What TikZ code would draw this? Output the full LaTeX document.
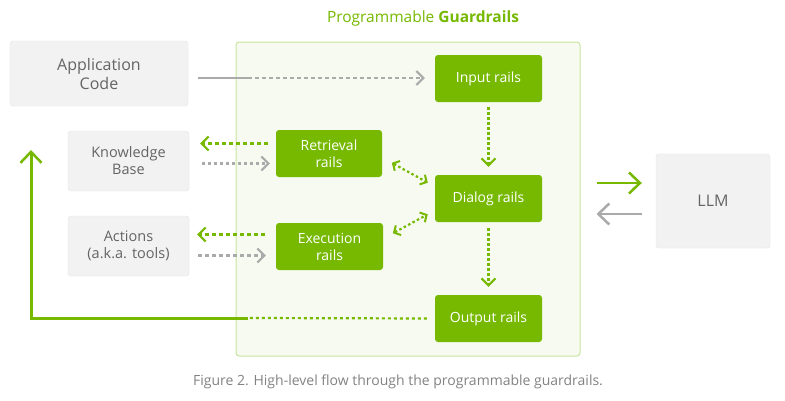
\documentclass[tikz,border=0pt]{standalone}
\usepackage{fontspec}
\setmainfont{Open Sans}
\usetikzlibrary{arrows.meta}
\definecolor{nvgreen}{RGB}{118,185,0}
\definecolor{railbg}{RGB}{247,250,240}
\definecolor{railedge}{RGB}{200,230,160}
\definecolor{boxgray}{RGB}{242,242,242}
\definecolor{boxedge}{RGB}{228,228,228}
\definecolor{txtgray}{RGB}{100,100,100}
\definecolor{arrgray}{RGB}{170,170,170}
\tikzset{
  outerbox/.style={draw=boxedge,fill=boxgray,rounded corners=3pt,text=txtgray,align=center},
  railbox/.style={fill=nvgreen,rounded corners=3pt,text=white,align=center,
    minimum width=107pt,minimum height=47pt,font=\fontsize{14}{17}\selectfont},
  tip/.style={-{Straight Barb[length=7pt,width=14pt,line width=2pt]}},
  bigtip/.style={-{Straight Barb[length=11pt,width=21pt,line width=2.5pt]}},
  bitip/.style={{Straight Barb[length=5pt,width=11pt,line width=2pt]}-{Straight Barb[length=5pt,width=11pt,line width=2pt]}},
  greendash/.style={tip,nvgreen,line width=2.2pt,dash pattern=on 4pt off 3pt},
  greendot/.style={tip,nvgreen,line width=2.2pt,dash pattern=on 2.5pt off 2.5pt},
  graydash/.style={tip,arrgray,line width=2.2pt,dash pattern=on 4pt off 3pt}
}
\begin{document}
\begin{tikzpicture}[x=1pt,y=-1pt]
  \useasboundingbox[fill=white] (0,0) rectangle (785,400);
  \node[draw=railedge,fill=railbg,rounded corners=3pt,line width=1pt,minimum width=344pt,minimum height=314pt] (guard) at (408,199) {};
  \node[text=nvgreen,font=\fontsize{15.5}{18}\selectfont] (title) at (423,18) {Programmable \textbf{Guardrails}};
  \node[outerbox,minimum width=178pt,minimum height=65pt,font=\fontsize{16}{19}\selectfont] (app) at (99,73.5) {Application\\Code};
  \node[outerbox,minimum width=121pt,minimum height=60pt,font=\fontsize{14.5}{17}\selectfont] (kb) at (128.5,161) {Knowledge\\Base};
  \node[outerbox,minimum width=121pt,minimum height=60pt,font=\fontsize{14.5}{17}\selectfont] (act) at (128.5,246) {Actions\\(a.k.a. tools)};
  \node[outerbox,minimum width=114pt,minimum height=94pt,font=\fontsize{16}{19}\selectfont] (llm) at (713,201) {LLM};
  \node[railbox] (input) at (488.5,78.5) {Input rails};
  \node[railbox,minimum width=106pt] (retr) at (329,153.5) {Retrieval\\rails};
  \node[railbox] (dialog) at (488.5,198.5) {Dialog rails};
  \node[railbox] (exec) at (329.5,246.5) {Execution\\rails};
  \node[railbox] (output) at (488.5,318.5) {Output rails};
  \node[text=txtgray!80,font=\fontsize{14}{16}\selectfont] (caption) at (398,382) {Figure 2. High-level flow through the programmable guardrails.};
  \coordinate (appmid) at (248,78);
  \coordinate (outmid) at (248,318);
  \coordinate (corner) at (31,318);
  \coordinate (back) at (31,150);
  \draw[arrgray,line width=2.4pt,shorten <=10pt] (app.east |- appmid) -- (appmid);
  \draw[graydash,shorten >=10pt] (appmid) -- (input.west |- appmid);
  \draw[greendash,shorten <=8pt,shorten >=11pt] ([yshift=10pt]retr.west) -- ([yshift=10pt]retr.west -| kb.east);
  \draw[graydash,shorten <=13pt,shorten >=6pt,dash pattern=on 3pt off 3pt] ([yshift=-10pt]retr.west -| kb.east) -- ([yshift=-10pt]retr.west);
  \draw[greendash,shorten <=11pt,shorten >=8pt] ([yshift=12pt]exec.west) -- ([yshift=12pt]exec.west -| act.east);
  \draw[graydash,shorten <=9pt,shorten >=10pt] ([yshift=-9pt]exec.west -| act.east) -- ([yshift=-9pt]exec.west);
  \draw[greendot,shorten <=5pt,shorten >=8pt] (input) -- (dialog);
  \draw[greendot,shorten <=6pt,shorten >=8pt] (dialog) -- (output);
  \draw[bitip,nvgreen,line width=2.2pt,dash pattern=on 2.5pt off 2.5pt,shorten <=11pt,shorten >=8pt] ([yshift=-4pt]retr.east) -- ([yshift=12pt]dialog.west);
  \draw[bitip,nvgreen,line width=2.2pt,dash pattern=on 2.5pt off 2.5pt,shorten <=11pt,shorten >=8pt] ([yshift=8pt]exec.east) -- ([yshift=-12pt]dialog.west);
  \draw[bigtip,nvgreen,line width=2.5pt,shorten <=16pt,shorten >=14pt] ([yshift=18pt]llm.west -| guard.east) -- ([yshift=18pt]llm.west);
  \draw[bigtip,arrgray,line width=2.5pt,shorten <=14pt,shorten >=16pt] ([yshift=-13pt]llm.west) -- ([yshift=-13pt]llm.west -| guard.east);
  \draw[nvgreen,line width=2.2pt,dash pattern=on 3pt off 3pt,shorten <=8pt] (output.west) -- (outmid);
  \draw[bigtip,nvgreen,line width=3pt] (outmid) -- (corner) -- (back);
\end{tikzpicture}
\end{document}
